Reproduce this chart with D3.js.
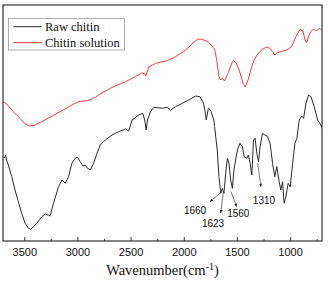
<!DOCTYPE html>
<html>
<head>
<meta charset="utf-8">
<script src="https://cdn.jsdelivr.net/npm/d3@7"></script>
<style>
  body { margin: 0; background: #fff; }
  svg { display: block; }
</style>
</head>
<body>
<svg id="chart" width="328" height="282"></svg>
<script>
// Wavenumber (cm-1) / transmittance (a.u.)
const rawWn = [3700, 3686, 3676, 3667, 3650, 3618, 3587, 3556, 3524, 3492, 3461, 3439, 3414, 3382, 3335, 3304, 3273, 3257,
    3225, 3178, 3146, 3115, 3084, 3052, 3021, 2999, 2974, 2948, 2926, 2905, 2879, 2848, 2816, 2785, 2738, 2675, 2612,
    2549, 2518, 2486, 2424, 2386, 2367, 2354, 2341, 2313, 2282, 2203, 2156, 2124, 2077, 2014, 1952, 1889, 1848, 1820,
    1801, 1788, 1769, 1748, 1717, 1710, 1685, 1669, 1653, 1637, 1622, 1606, 1590, 1575, 1559, 1543, 1528, 1496, 1471,
    1448, 1433, 1408, 1392, 1376, 1360, 1344, 1329, 1313, 1297, 1282, 1260, 1238, 1212, 1188, 1165, 1144, 1125, 1103,
    1087, 1071, 1056, 1040, 1018, 999, 976, 955, 936, 914, 891, 873, 851, 826, 804, 773, 741, 710, 679];
const rawT = [84.5, 83, 86, 81, 76, 64.3, 51, 39.3, 27.7, 17.7, 12.7, 11.7, 14.3, 17.7, 24.3, 27, 26, 25,
    37.7, 54.3, 61, 57.7, 64.3, 77.7, 82.7, 83.7, 79.3, 75, 76, 72.7, 71, 77.7, 87.7, 96, 101, 106, 109.3,
    112, 110, 121, 126, 127.7, 121, 111, 121, 129.3, 133.7, 132.7, 133.7, 131, 134.3, 137.7, 141, 145, 144.3, 139.3,
    131, 121, 132.7, 131, 121, 114.3, 91, 64.3, 47.7, 52.7, 47.7, 67.7, 82.7, 77.7, 61, 52.7, 71, 91, 97.7,
    94.3, 84.3, 82.7, 86, 77.7, 66, 101, 102.7, 87.7, 79.3, 94.3, 107.7, 106, 104.3, 97.7, 77.7, 64.3, 74.3, 59.3,
    51, 59.3, 37.7, 44.3, 57.7, 54.3, 77.7, 97.7, 102.7, 121, 125, 122.7, 137.7, 146, 144.3, 134.3, 121, 116, 107.7];

const solWn = [3700, 3665, 3603, 3540, 3492, 3452, 3398, 3335, 3257, 3193, 3115, 3052, 2990, 2910, 2848, 2785, 2691,
    2643, 2549, 2455, 2391, 2367, 2356, 2329, 2266, 2156, 2077, 1983, 1905, 1867, 1842, 1794, 1773, 1731, 1710, 1690,
    1669, 1653, 1639, 1615, 1584, 1542, 1530, 1505, 1474, 1442, 1422, 1395, 1370, 1339, 1301, 1257, 1219, 1191, 1165,
    1144, 1118, 1087, 1056, 1030, 986, 945, 908, 879, 860, 844, 828, 809, 782, 750, 719, 688];
const solT = [139.3, 137, 129.3, 122.7, 117, 115, 116, 119.3, 123.7, 127.7, 132, 136, 139.3, 140.3, 142.7, 147, 152.7,
    155, 159.3, 164.3, 168.3, 167, 165, 173.7, 177.7, 180.3, 184.3, 191, 198.7, 201.7, 202, 200.3, 199.3, 194.3, 192, 181,
    164.3, 161, 162.7, 160, 167.7, 179.3, 180.5, 177.7, 169.3, 157.7, 154, 161, 171, 181, 187.7, 192, 194, 192.7, 189.3,
    186, 188.3, 189.5, 190.3, 191, 194.3, 204.3, 211.7, 210, 201, 198.3, 204, 209, 211.7, 210.3, 212.7, 209.3];

const seriesNames = ["Raw chitin", "Chitin solution"];
const seriesColors = ["#2b2b2b", "#ff3b3b"];

const majorTicks = [3500, 3000, 2500, 2000, 1500, 1000];
const minorTicks = [3250, 2750, 2250, 1750, 1250, 750];

// peak labels: text, anchor wavenumber and transmittance on the raw chitin curve
const peakLabels = ["1660", "1623", "1560", "1310"];
const peakWn = [1643, 1628, 1556, 1305];
const peakT = [49.3, 49, 49.3, 77.7];

const dimensions = {
    width: 328,
    height: 282,
    margin: { top: 5, bottom: 41, left: 3, right: 6 },
};

const svg = d3.select("#chart");

const xScale = d3.scaleLinear()
    .domain([3700, 700])
    .range([dimensions.margin.left, dimensions.width - dimensions.margin.right]);

const yScale = d3.scaleLinear()
    .domain([0, 236])
    .range([dimensions.height - dimensions.margin.bottom, dimensions.margin.top]);

const plotBottom = dimensions.height - dimensions.margin.bottom;
const plotRight = dimensions.width - dimensions.margin.right;

svg.append("defs").append("clipPath")
    .attr("id", "clip")
    .append("rect")
    .attr("x", dimensions.margin.left)
    .attr("y", dimensions.margin.top)
    .attr("width", plotRight - dimensions.margin.left)
    .attr("height", plotBottom - dimensions.margin.top);

svg.append("defs").append("marker")
    .attr("id", "arrow")
    .attr("viewBox", "0 0 10 10")
    .attr("refX", 9)
    .attr("refY", 5)
    .attr("markerWidth", 5)
    .attr("markerHeight", 5)
    .attr("orient", "auto")
    .append("path")
    .attr("d", "M0,1 L10,5 L0,9 z")
    .attr("fill", "#222");

const line = d3.line()
    .x(d => xScale(d[0]))
    .y(d => yScale(d[1]));

const series = [
    d3.zip(rawWn, rawT),
    d3.zip(solWn, solT),
];

svg.append("g")
    .attr("clip-path", "url(#clip)")
    .selectAll("path")
    .data(series)
    .enter()
    .append("path")
    .attr("d", line)
    .attr("fill", "none")
    .attr("stroke", (d, i) => seriesColors[i])
    .attr("stroke-width", 1)
    .attr("stroke-linejoin", "round");

// Bottom axis with inward ticks
const xAxis = svg.append("g")
    .attr("transform", `translate(0,${plotBottom})`)
    .call(d3.axisBottom(xScale).tickValues(majorTicks).tickSize(-4).tickPadding(7).tickFormat(d3.format("d")));
xAxis.select(".domain").remove();
xAxis.selectAll("line").attr("stroke", "#333");
xAxis.selectAll("text")
    .attr("y", 7)
    .attr("dy", "0.71em")
    .style("font-family", "'Liberation Sans', Arial, sans-serif")
    .style("font-size", "11px")
    .attr("fill", "#111");

const xMinor = svg.append("g")
    .attr("transform", `translate(0,${plotBottom})`)
    .call(d3.axisBottom(xScale).tickValues(minorTicks).tickSize(-2).tickFormat(""));
xMinor.select(".domain").remove();
xMinor.selectAll("line").attr("stroke", "#333");

// Frame
svg.append("rect")
    .attr("x", dimensions.margin.left)
    .attr("y", dimensions.margin.top)
    .attr("width", plotRight - dimensions.margin.left)
    .attr("height", plotBottom - dimensions.margin.top)
    .attr("fill", "none")
    .attr("stroke", "#333")
    .attr("stroke-width", 1.2);

// Axis title
const title = svg.append("text")
    .attr("x", 162.5)
    .attr("y", 275)
    .attr("text-anchor", "middle")
    .style("font-family", "'Liberation Serif', 'Times New Roman', serif")
    .style("font-size", "14.5px")
    .attr("fill", "#111");
title.append("tspan").text("Wavenumber(cm");
title.append("tspan").attr("dy", -5).style("font-size", "10px").text("-1");
title.append("tspan").attr("dy", 5).text(")");

// Peak annotations
const arrowEnd = [[-11.7, 10], [-2.6, 21], [5.7, 15], [3.3, 23.4]];
const textPos = [[-26.7, 22.3], [-10.3, 35], [7.3, 25.3], [6.3, 40.7]];

const peaks = svg.append("g");
peakLabels.forEach((label, i) => {
    const px = xScale(peakWn[i]);
    const py = yScale(peakT[i]);
    peaks.append("line")
        .attr("x1", px)
        .attr("y1", py)
        .attr("x2", px + arrowEnd[i][0])
        .attr("y2", py + arrowEnd[i][1])
        .attr("stroke", "#444")
        .attr("stroke-width", 0.7)
        .attr("marker-end", "url(#arrow)");
    peaks.append("text")
        .attr("x", px + textPos[i][0])
        .attr("y", py + textPos[i][1])
        .attr("text-anchor", "middle")
        .style("font-family", "'Liberation Sans', Arial, sans-serif")
        .style("font-size", "10px")
        .attr("fill", "#111")
        .text(label);
});

// Legend
const legend = svg.append("g");
legend.append("rect")
    .attr("x", 8.5)
    .attr("y", 18.5)
    .attr("width", 116)
    .attr("height", 31.5)
    .attr("fill", "#fff")
    .attr("stroke", "#999")
    .attr("stroke-width", 0.8);

seriesNames.forEach((name, i) => {
    const ly = 26.7 + i * 16;
    legend.append("line")
        .attr("x1", 13.3)
        .attr("x2", 41.7)
        .attr("y1", ly)
        .attr("y2", ly)
        .attr("stroke", seriesColors[i])
        .attr("stroke-width", 1);
    legend.append("text")
        .attr("x", 45)
        .attr("y", ly + 4.3)
        .style("font-family", "'Liberation Serif', 'Times New Roman', serif")
        .style("font-size", "12.5px")
        .attr("fill", "#111")
        .text(name);
});
</script>
</body>
</html>
